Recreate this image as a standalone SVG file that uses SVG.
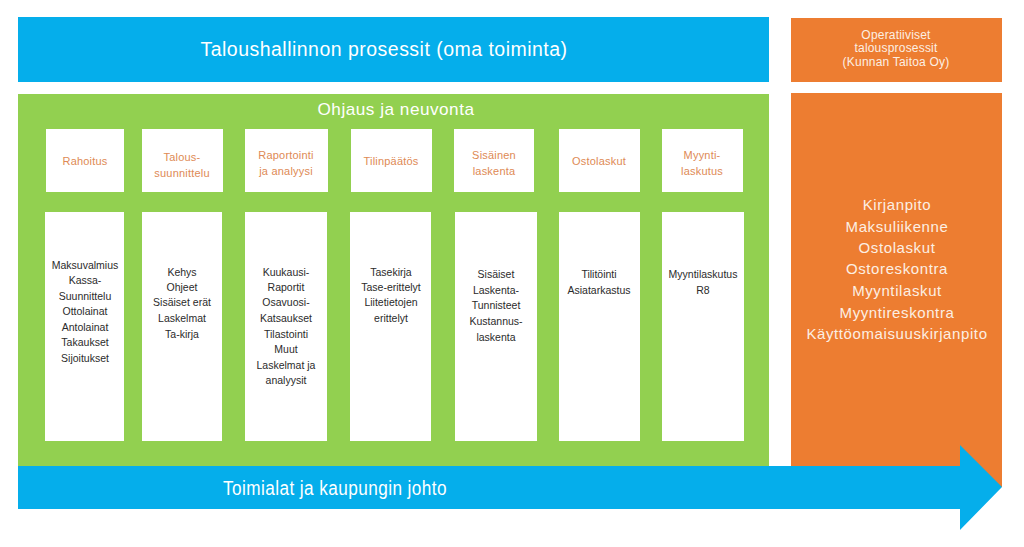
<svg xmlns="http://www.w3.org/2000/svg" width="1024" height="547" viewBox="0 0 1024 547">
<style>
text{font-family:"Liberation Sans",Arial,sans-serif;text-anchor:middle}
.blue{fill:#05AEEB}
.green{fill:#92D050}
.orange{fill:#ED7D31}
.box{fill:#FFFFFF}
.hdr{fill:#DE8A55;font-size:11px;letter-spacing:0.2px}
.body{fill:#2B2B2B;font-size:10.5px}
.ow{fill:#FCEFE3;font-size:15px;letter-spacing:0.6px}
.ohd{fill:#FCEFE3;font-size:12px;letter-spacing:0.2px}
.big{fill:#FFFFFF;font-size:20px;letter-spacing:0.5px}
</style>
<rect width="1024" height="547" fill="#FFFFFF"/>
<g id="orange-main"><rect class="orange" x="791" y="93" width="211" height="394"/>
<text class="ow" x="897" y="210">Kirjanpito</text>
<text class="ow" x="897" y="232">Maksuliikenne</text>
<text class="ow" x="897" y="253">Ostolaskut</text>
<text class="ow" x="897" y="274">Ostoreskontra</text>
<text class="ow" x="897" y="296">Myyntilaskut</text>
<text class="ow" x="897" y="318">Myyntireskontra</text>
<text class="ow" x="897" y="339">Käyttöomaisuuskirjanpito</text>
</g>
<g id="header-blue"><rect class="blue" x="18" y="17" width="751" height="65"/>
<text class="big" x="384" y="56" textLength="367" lengthAdjust="spacingAndGlyphs">Taloushallinnon prosessit (oma toiminta)</text></g>
<g id="header-orange"><rect class="orange" x="791" y="18" width="211" height="64"/>
<text class="ohd" x="896" y="39">Operatiiviset</text>
<text class="ohd" x="896" y="52">talousprosessit</text>
<text class="ohd" x="896" y="66">(Kunnan Taitoa Oy)</text></g>
<g id="ohjaus"><rect class="green" x="18" y="94" width="751" height="373"/>
<text class="big" x="396" y="115" style="font-size:17px" textLength="157" lengthAdjust="spacingAndGlyphs">Ohjaus ja neuvonta</text></g>
<g id="col1">
<rect class="box" x="46" y="129" width="78" height="63"/>
<text class="hdr" x="85" y="165">Rahoitus</text>
<rect class="box" x="45" y="212" width="79" height="229"/>
<text class="body" x="85" y="269">Maksuvalmius</text>
<text class="body" x="85" y="284">Kassa-</text>
<text class="body" x="85" y="300">Suunnittelu</text>
<text class="body" x="85" y="315">Ottolainat</text>
<text class="body" x="85" y="331">Antolainat</text>
<text class="body" x="85" y="346">Takaukset</text>
<text class="body" x="85" y="362">Sijoitukset</text>
</g>
<g id="col2">
<rect class="box" x="142" y="129" width="81" height="63"/>
<text class="hdr" x="182" y="161">Talous-</text>
<text class="hdr" x="182" y="177">suunnittelu</text>
<rect class="box" x="142" y="212" width="80" height="229"/>
<text class="body" x="182" y="276">Kehys</text>
<text class="body" x="182" y="291">Ohjeet</text>
<text class="body" x="182" y="306">Sisäiset erät</text>
<text class="body" x="182" y="322">Laskelmat</text>
<text class="body" x="182" y="338">Ta-kirja</text>
</g>
<g id="col3">
<rect class="box" x="245" y="129" width="83" height="63"/>
<text class="hdr" x="286" y="159">Raportointi</text>
<text class="hdr" x="286" y="175">ja analyysi</text>
<rect class="box" x="245" y="212" width="82" height="229"/>
<text class="body" x="286" y="276">Kuukausi-</text>
<text class="body" x="286" y="291">Raportit</text>
<text class="body" x="286" y="306">Osavuosi-</text>
<text class="body" x="286" y="322">Katsaukset</text>
<text class="body" x="286" y="338">Tilastointi</text>
<text class="body" x="286" y="353">Muut</text>
<text class="body" x="286" y="369">Laskelmat ja</text>
<text class="body" x="286" y="384">analyysit</text>
</g>
<g id="col4">
<rect class="box" x="351" y="129" width="81" height="63"/>
<text class="hdr" x="391" y="165">Tilinpäätös</text>
<rect class="box" x="350" y="212" width="81" height="229"/>
<text class="body" x="391" y="276">Tasekirja</text>
<text class="body" x="391" y="291">Tase-erittelyt</text>
<text class="body" x="391" y="306">Liitetietojen</text>
<text class="body" x="391" y="322">erittelyt</text>
</g>
<g id="col5">
<rect class="box" x="454" y="129" width="80" height="63"/>
<text class="hdr" x="494" y="159">Sisäinen</text>
<text class="hdr" x="494" y="175">laskenta</text>
<rect class="box" x="455" y="212" width="82" height="229"/>
<text class="body" x="496" y="278">Sisäiset</text>
<text class="body" x="496" y="294">Laskenta-</text>
<text class="body" x="496" y="309">Tunnisteet</text>
<text class="body" x="496" y="325">Kustannus-</text>
<text class="body" x="496" y="341">laskenta</text>
</g>
<g id="col6">
<rect class="box" x="559" y="129" width="81" height="63"/>
<text class="hdr" x="599" y="165">Ostolaskut</text>
<rect class="box" x="559" y="212" width="81" height="229"/>
<text class="body" x="599" y="278">Tilitöinti</text>
<text class="body" x="599" y="294">Asiatarkastus</text>
</g>
<g id="col7">
<rect class="box" x="662" y="129" width="81" height="63"/>
<text class="hdr" x="702" y="159">Myynti-</text>
<text class="hdr" x="702" y="175">laskutus</text>
<rect class="box" x="662" y="212" width="82" height="229"/>
<text class="body" x="703" y="278">Myyntilaskutus</text>
<text class="body" x="703" y="294">R8</text>
</g>
<g id="arrow">
<polygon class="blue" points="18,466 960,466 960,445 1002,487 960,530 960,509 18,509"/>
<text class="big" x="335" y="495" textLength="224" lengthAdjust="spacingAndGlyphs">Toimialat ja kaupungin johto</text>
</g>
</svg>
